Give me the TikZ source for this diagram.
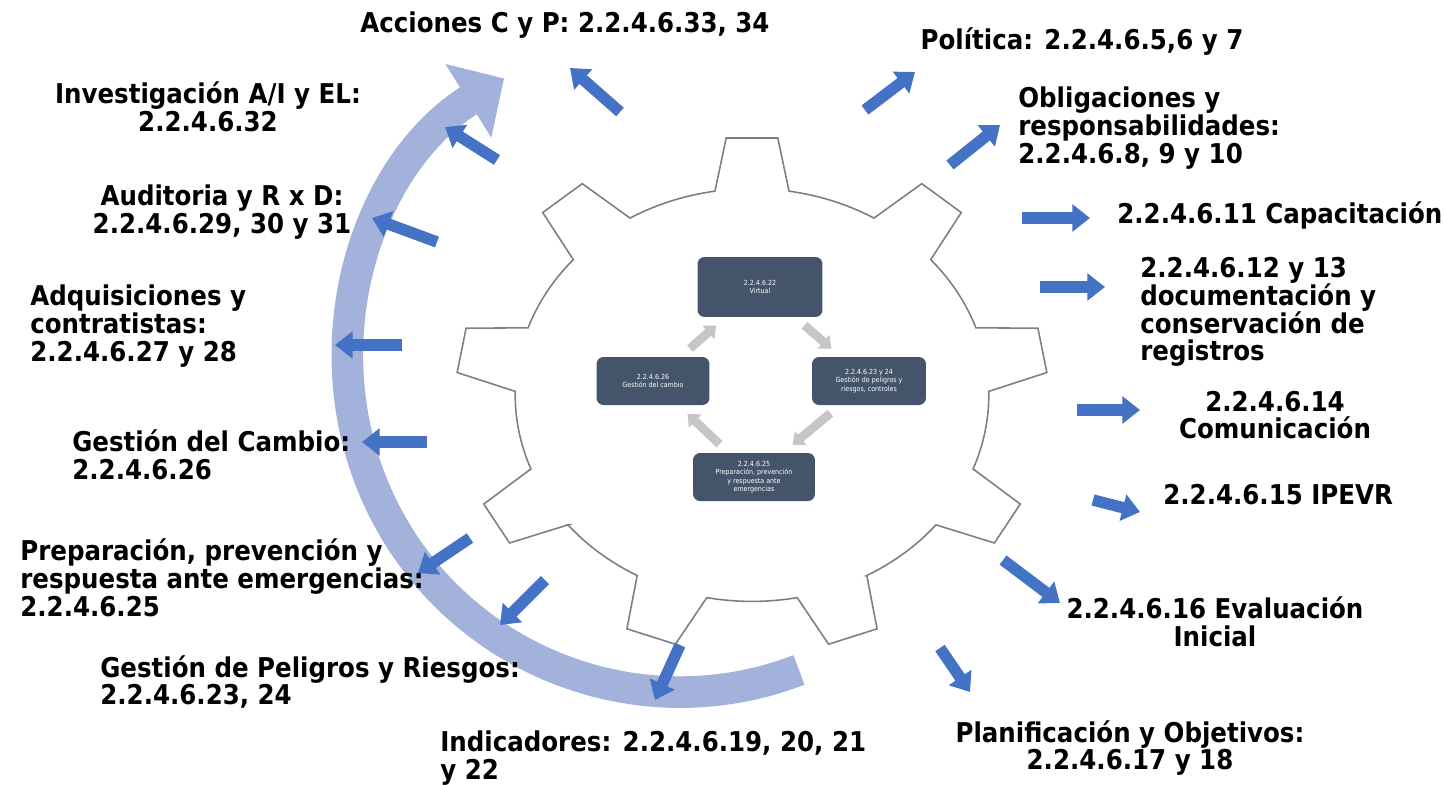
\documentclass[tikz,border=0pt]{standalone}
\usepackage{fontspec}
\setmainfont{DejaVu Sans Condensed}
\usetikzlibrary{arrows.meta,positioning}
\definecolor{flecha}{RGB}{68,114,196}
\definecolor{banda}{RGB}{163,178,219}
\definecolor{caja}{RGB}{68,84,106}
\definecolor{engrane}{RGB}{120,128,138}

\begin{document}
\begin{tikzpicture}[
  x=0.02cm, y=-0.02cm,
  every node/.style={font=\bfseries\fontsize{15.5}{15.8}\selectfont, inner sep=0pt},
  etiqueta/.style={align=left, anchor=west},
  etiquetac/.style={align=center},
  cajita/.style={fill=caja, rounded corners=4pt, text=white, align=center,
                 inner sep=2pt, font=\fontsize{4}{4.8}\selectfont},
  flechaazul/.style={draw=flecha, line width=6.5pt, -{Triangle[length=10pt,width=15pt]}},
  flechagris/.style={draw=gray!45, line width=5pt, -{Triangle[length=6pt,width=10pt]},
                     shorten <=7pt, shorten >=7pt},
]
\useasboundingbox (0,0) rectangle (1445,785);

\draw[banda, line width=18pt, -{Triangle[length=24pt,width=48pt]}]
  (680,360) ++(69:332) arc[start angle=69, end angle=238, radius=332];

\begin{scope}[shift={(752,395)}]
\draw[engrane, line width=0.9pt, fill=white] (-99:236.8 and 206.4)
  \foreach \a in {-90,-50,...,230}{
    -- (\a-9:236.8 and 206.4) -- (\a-5:296 and 258) -- (\a+5:296 and 258)
    -- (\a+9:236.8 and 206.4)
    arc[start angle=\a+9, end angle=\a+31, x radius=236.8, y radius=206.4]
  } -- cycle;
\end{scope}

\node[cajita, minimum width=2.5cm, minimum height=1.2cm] (sup) at (760,287) {2.2.4.6.22\\Virtual};
\node[cajita, minimum width=2.26cm, minimum height=0.96cm] (izq) at (653,381) {2.2.4.6.26\\Gestión del cambio};
\node[cajita, minimum width=2.28cm, minimum height=0.96cm] (der) at (869,381) {2.2.4.6.23 y 24\\Gestión de peligros y\\riesgos, controles};
\node[cajita, minimum width=2.44cm, minimum height=0.96cm] (inf) at (754,477) {2.2.4.6.25\\Preparación, prevención\\y respuesta ante\\emergencias};

\draw[flechagris] (sup) -- (der);
\draw[flechagris] (der) -- (inf);
\draw[flechagris] (inf) -- (izq);
\draw[flechagris] (izq) -- (sup);

\node[etiquetac] (acc) at (565,25) {Acciones C y P: 2.2.4.6.33, 34};
\node[etiquetac] (inv) at (208,107) {Investigación A/I y EL:\\2.2.4.6.32};
\node[etiquetac] (aud) at (222,212) {Auditoria y R x D:\\2.2.4.6.29, 30 y 31};
\node[etiqueta] (adq) at (30,326) {Adquisiciones y\\contratistas:\\2.2.4.6.27 y 28};
\node[etiqueta] (cam) at (72,455) {Gestión del Cambio:\\2.2.4.6.26};
\node[etiqueta] (pre) at (20,578) {Preparación, prevención y\\respuesta ante emergencias:\\2.2.4.6.25};
\node[etiqueta] (pel) at (100,682) {Gestión de Peligros y Riesgos:\\2.2.4.6.23, 24};
\node[etiqueta] (ind) at (440,758) {Indicadores: 2.2.4.6.19, 20, 21\\y 22};
\node[etiquetac] (pol) at (1082,42) {Política: 2.2.4.6.5,6 y 7};
\node[etiqueta] (obl) at (1018,128) {Obligaciones y\\responsabilidades:\\2.2.4.6.8, 9 y 10};
\node[etiqueta] (cap) at (1117,215) {2.2.4.6.11 Capacitación};
\node[etiqueta] (doc) at (1140,312) {2.2.4.6.12 y 13\\documentación y\\conservación de\\registros};
\node[etiquetac] (com) at (1275,415) {2.2.4.6.14\\Comunicación};
\node[etiqueta] (ipe) at (1163,495) {2.2.4.6.15 IPEVR};
\node[etiquetac] (eva) at (1215,622) {2.2.4.6.16 Evaluación\\Inicial};
\node[etiquetac] (pla) at (1130,748) {Planificación y Objetivos:\\2.2.4.6.17 y 18};

\foreach \n/\xa/\ya/\xb/\yb in {acc/620/112/570/68, inv/497/160/445/127,
    aud/437/242/372/218, adq/402/345/335/345, cam/427/442/362/442,
    pre/470/538/418/573, pel/545/580/500/625, ind/680/645/655/700,
    pol/865/110/915/72, obl/950/165/1000/125, cap/1022/218/1090/218,
    doc/1040/287/1105/287, com/1077/410/1140/410, ipe/1093/500/1140/512,
    eva/1003/560/1060/603, pla/940/648/970/692}{
  \coordinate (\n-a) at (\xa,\ya);
  \coordinate (\n-b) at (\xb,\yb);
  \draw[flechaazul] (\n-a) -- (\n-b);
}
\end{tikzpicture}
\end{document}
